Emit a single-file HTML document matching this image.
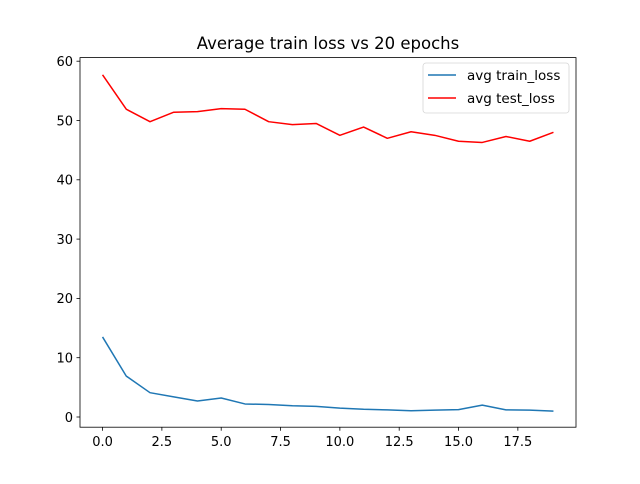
<!DOCTYPE html>
<html><head><meta charset="utf-8"><style>
body{margin:0;background:#fff;font-family:"DejaVu Sans","Liberation Sans",sans-serif;}
svg text{font-family:"DejaVu Sans","Liberation Sans",sans-serif;}
</style></head><body>
<svg id="chart" width="640" height="480" xmlns="http://www.w3.org/2000/svg">
<rect width="640" height="480" fill="#fff"/>
<text x="328" y="49" font-size="16.5" text-anchor="middle">Average train loss vs 20 epochs</text>
<g id="axes"></g>
<rect x="80" y="57.6" width="496" height="369.6" fill="none" stroke="#000" stroke-width="0.8"/>
<g>
<rect x="423" y="63" width="146" height="50" rx="3" fill="#fff" stroke="#ccc" stroke-width="0.8" opacity="0.8"/>
<g><line x1="428" y1="75" x2="456" y2="75" stroke="#1f77b4" stroke-width="1.5"/><text x="467" y="80" font-size="13.5">avg train_loss</text></g>
<g><line x1="428" y1="98" x2="456" y2="98" stroke="#ff0000" stroke-width="1.5"/><text x="467" y="103" font-size="13.5">avg test_loss</text></g>
</g>
</svg>
<script>
const epochs=[0,1,2,3,4,5,6,7,8,9,10,11,12,13,14,15,16,17,18,19];
const trainLoss=[13.5,6.9,4.1,3.4,2.7,3.2,2.2,2.1,1.9,1.8,1.5,1.3,1.2,1.05,1.15,1.25,2.0,1.2,1.15,1.0];
const testLoss=[57.7,51.9,49.8,51.4,51.5,52.0,51.9,49.8,49.3,49.5,47.5,48.9,47.0,48.1,47.5,46.5,46.3,47.3,46.5,48.0];
const xTicks=[0,2.5,5,7.5,10,12.5,15,17.5];
const xTickLabels=["0.0","2.5","5.0","7.5","10.0","12.5","15.0","17.5"];
const yTicks=[0,10,20,30,40,50,60];
const NS="http://www.w3.org/2000/svg";
const X=v=>80+(v+0.95)*496/20.9;
const Y=v=>417-v*5.93;
const g=document.getElementById('axes');
function mk(t,a){const e=document.createElementNS(NS,t);for(const k in a)e.setAttribute(k,a[k]);g.appendChild(e);return e;}
xTicks.forEach((t,i)=>{
 const l=mk('line',{x1:X(t),x2:X(t),y1:427.2,y2:430.7,stroke:'#000','stroke-width':0.8});
 
 
 const tx=mk('text',{x:X(t),y:446,'font-size':13,'text-anchor':'middle'});tx.textContent=xTickLabels[i];
 
 
});
yTicks.forEach(t=>{
 const l=mk('line',{x1:76.5,x2:80,y1:Y(t),y2:Y(t),stroke:'#000','stroke-width':0.8});
 
 
 const tx=mk('text',{x:73,y:Y(t)+4.8,'font-size':13,'text-anchor':'end'});tx.textContent=t;
 
 
});
function line(data,color){
 return mk('polyline',{points:data.map((v,i)=>X(epochs[i])+','+Y(v)).join(' '),fill:'none',stroke:color,'stroke-width':1.5,'stroke-linejoin':'round'});
}
const trainLine=line(trainLoss,'#1f77b4');


const testLine=line(testLoss,'#ff0000');


</script>
</body></html>
